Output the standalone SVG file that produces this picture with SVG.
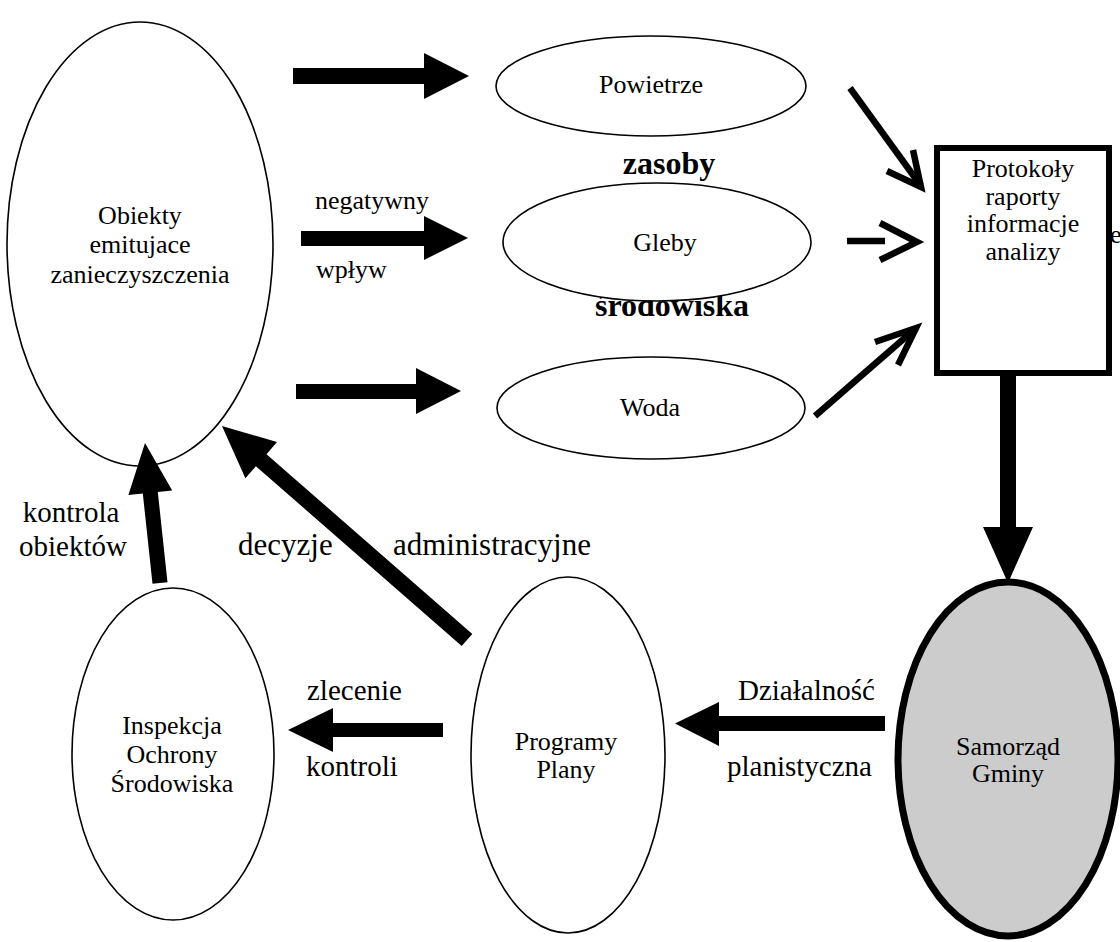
<svg xmlns="http://www.w3.org/2000/svg" width="1120" height="942" viewBox="0 0 1120 942" font-family="'Liberation Serif', 'DejaVu Serif', 'Times New Roman', serif">
<style>
text{font-family:'Liberation Serif','DejaVu Serif','Times New Roman',serif;fill:#000}
.n{font-size:26px;text-anchor:middle}
.l{font-size:26px}
.b{font-size:30px}
.h{font-size:32px;font-weight:bold;text-anchor:middle}
.el{fill:#fff;stroke:#000;stroke-width:1.6}
.thick{fill:#000;stroke:none}
.thin{fill:none;stroke:#000;stroke-width:6.5;stroke-linecap:butt;stroke-linejoin:miter}
</style>
<rect width="1120" height="942" fill="#fff"/>
<text class="h" x="669" y="174">zasoby</text>
<text class="h" x="672" y="316">środowiska</text>
<text class="l" x="1110" y="243">e</text>
<g id="obiekty">
<ellipse class="el" cx="140" cy="244" rx="133" ry="222"/>
<text class="n" x="140" y="224">Obiekty</text>
<text class="n" x="140" y="253">emitujace</text>
<text class="n" x="140" y="283">zanieczyszczenia</text>
</g>
<g id="powietrze">
<ellipse class="el" cx="651" cy="86" rx="155" ry="50"/>
<text class="n" x="651" y="93">Powietrze</text>
</g>
<g id="gleby">
<ellipse class="el" cx="657" cy="242" rx="154" ry="59"/>
<text class="n" x="665" y="251">Gleby</text>
</g>
<g id="woda">
<ellipse class="el" cx="651" cy="408" rx="154" ry="51"/>
<text class="n" x="650" y="416">Woda</text>
</g>
<g id="protokoly">
<rect x="937" y="148" width="172" height="225" fill="#fff" stroke="#000" stroke-width="6"/>
<text class="n" x="1023" y="177">Protokoły</text>
<text class="n" x="1023" y="205">raporty</text>
<text class="n" x="1023" y="232">informacje</text>
<text class="n" x="1023" y="260">analizy</text>
</g>
<g id="samorzad">
<ellipse cx="1008" cy="759" rx="110" ry="177" fill="#cccccc" stroke="#000" stroke-width="7"/>
<text class="n" x="1008" y="755">Samorząd</text>
<text class="n" x="1008" y="782">Gminy</text>
</g>
<g id="programy">
<ellipse class="el" cx="568" cy="755" rx="97" ry="178"/>
<text class="n" x="566" y="750">Programy</text>
<text class="n" x="566" y="778">Plany</text>
</g>
<g id="inspekcja">
<ellipse class="el" cx="173" cy="754" rx="101" ry="166"/>
<text class="n" x="172" y="734">Inspekcja</text>
<text class="n" x="172" y="763">Ochrony</text>
<text class="n" x="172" y="792">Środowiska</text>
</g>
<g id="connectors">
<polygon class="thick" points="293,68 424,68 424,53 469,76 424,99 424,84 293,84"/>
<polygon class="thick" points="301,231 424,231 424,216 468,238 424,260 424,246 301,246"/>
<polygon class="thick" points="296,384 416,384 416,368 461,391 416,414 416,399 296,399"/>
<polyline class="thin" points="850,88 921,186"/>
<polyline class="thin" points="887,171 921,187 913,150"/>
<polyline class="thin" points="847,241 885,241"/>
<polyline class="thin" points="880,223 917,242 880,260"/>
<polyline class="thin" points="815,416 915,329"/>
<polyline class="thin" points="875,342 916,328 898,365"/>
<polygon class="thick" points="1000,375 1016,375 1016,527 1033,527 1008,583 983,527 1000,527"/>
<polygon class="thick" points="885,716 719,716 719,702 675,723.5 719,746 719,731 885,731"/>
<polygon class="thick" points="443,723 333,723 333,708 288,730 333,752 333,737 443,737"/>
<polygon class="thick" points="142.8,493.5 128.4,495 145,443 172.2,490.4 157.8,491.9 167.5,582.2 152.5,583.8"/>
<polygon class="thick" points="255.9,466.2 245.4,478.3 222,426 277,442.1 266.5,454.2 472.3,634 461.7,646"/>
<text class="l" x="315" y="209">negatywny</text>
<text class="l" x="316" y="278">wpływ</text>
<text class="b" x="71" y="522" text-anchor="middle" style="font-size:29px">kontrola</text>
<text class="b" x="73" y="556" text-anchor="middle" style="font-size:29px">obiektów</text>
<text class="b" x="238" y="555" style="font-size:31px">decyzje</text>
<text class="b" x="393" y="555" style="font-size:31px">administracyjne</text>
<text class="b" x="307" y="700" style="font-size:29px">zlecenie</text>
<text class="b" x="306" y="776" style="font-size:29px">kontroli</text>
<text class="b" x="738" y="700" style="font-size:29px">Działalność</text>
<text class="b" x="727" y="776" style="font-size:29px">planistyczna</text>
</g>
</svg>
